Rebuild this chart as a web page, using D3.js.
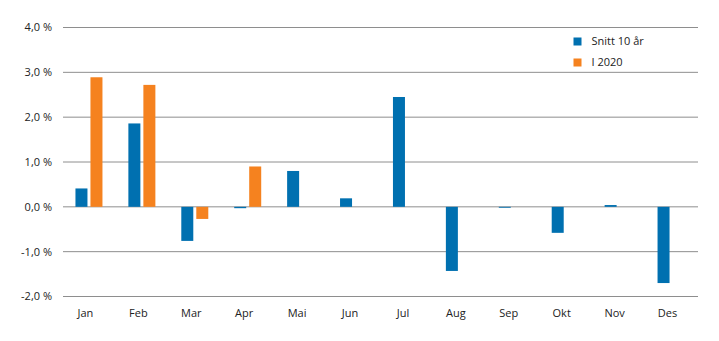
<!DOCTYPE html>
<html><head><meta charset="utf-8">
<script src="https://cdn.jsdelivr.net/npm/d3@7"></script>
<style>body{margin:0;background:#fff}svg{display:block}text{font-family:"Open Sans",sans-serif;fill:#222}</style>
</head><body><svg id="c" width="719" height="341"></svg>
<script>
const months = ["Jan","Feb","Mar","Apr","Mai","Jun","Jul","Aug","Sep","Okt","Nov","Des"];
const snitt10 = [0.41,1.86,-0.76,-0.03,0.80,0.19,2.45,-1.43,-0.02,-0.58,0.04,-1.70];
const i2020 = [2.89,2.72,-0.27,0.90,null,null,null,null,null,null,null,null];
const yTicks = [-2,-1,0,1,2,3,4];
const seriesNames = ["Snitt 10 år","I 2020"];
const colors = ["#0070b0","#f5821f"];

const svg = d3.select("#c");
const x = d3.scaleBand().domain(months).range([62.5,697.5]);
const y = d3.scaleLinear().domain([-2,4]).range([296.5,27.5]);
const fmt = v => d3.format(".1f")(v).replace(".",",").replace("−","-") + " %";

svg.append("g").selectAll("line").data(yTicks).join("line")
  .attr("x1",63).attr("x2",698).attr("y1",d=>y(d)).attr("y2",d=>y(d))
  .attr("stroke","#8e8e8e").attr("stroke-width",1);

svg.append("g").selectAll("text").data(yTicks).join("text")
  .attr("x",52).attr("y",d=>y(d)).attr("dy","0.35em").attr("text-anchor","end")
  .attr("font-size",11).text(fmt);

const bw = 12, gap = 3;
const bars = svg.append("g");
bars.selectAll("rect.a").data(months).join("rect").attr("class","a")
  .attr("x",d=>x(d)+x.bandwidth()/2 - gap/2 - bw)
  .attr("width",bw)
  .attr("y",(d,i)=>y(Math.max(0,snitt10[i])))
  .attr("height",(d,i)=>Math.abs(y(snitt10[i])-y(0)))
  .attr("fill",colors[0]);
bars.selectAll("rect.b").data(months.filter((d,i)=>i2020[i]!==null)).join("rect").attr("class","b")
  .attr("x",d=>x(d)+x.bandwidth()/2 + gap/2)
  .attr("width",bw)
  .attr("y",d=>y(Math.max(0,i2020[months.indexOf(d)])))
  .attr("height",d=>Math.abs(y(i2020[months.indexOf(d)])-y(0)))
  .attr("fill",colors[1]);

svg.append("g").selectAll("text").data(months).join("text")
  .attr("x",d=>x(d)+x.bandwidth()/2-3.5).attr("y",313).attr("dy","0.35em")
  .attr("text-anchor","middle").attr("font-size",11).text(d=>d);

const lg = svg.append("g");
seriesNames.forEach((n,i)=>{
  lg.append("rect").attr("x",573.5).attr("y",37.5+i*21).attr("width",8).attr("height",8).attr("fill",colors[i]);
  lg.append("text").attr("x",591.5).attr("y",41.5+i*21).attr("dy","0.35em").attr("font-size",11).text(n);
});
</script></body></html>
